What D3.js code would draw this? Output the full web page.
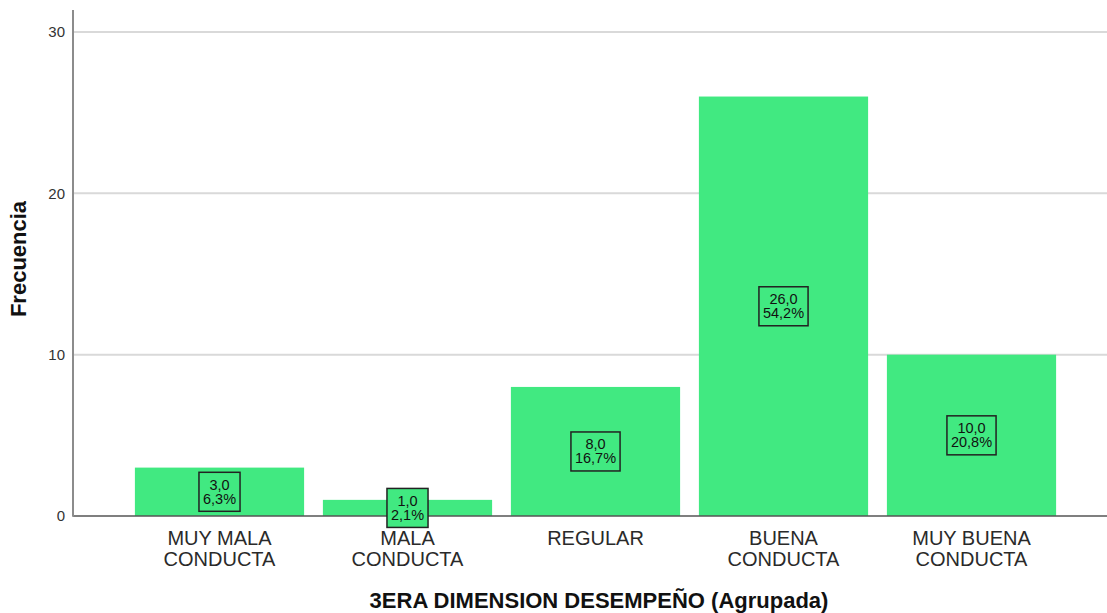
<!DOCTYPE html>
<html>
<head>
<meta charset="utf-8">
<script src="https://cdn.jsdelivr.net/npm/d3@7"></script>
<style>
  html, body { margin: 0; padding: 0; background: #fff; }
  svg { display: block; font-family: "Liberation Sans", Arial, sans-serif; }
</style>
</head>
<body>
<svg id="chart" width="1107" height="613"></svg>
<script>
// Frequency of each grouped performance level
const categories = ["MUY MALA CONDUCTA", "MALA CONDUCTA", "REGULAR", "BUENA CONDUCTA", "MUY BUENA CONDUCTA"];
const categoryLines = [["MUY MALA", "CONDUCTA"], ["MALA", "CONDUCTA"], ["REGULAR"], ["BUENA", "CONDUCTA"], ["MUY BUENA", "CONDUCTA"]];
const frequencies = [3, 1, 8, 26, 10];
const percentLabels = ["6,3%", "2,1%", "16,7%", "54,2%", "20,8%"];
const countLabels = ["3,0", "1,0", "8,0", "26,0", "10,0"];
const yTicks = [0, 10, 20, 30];

const svg = d3.select("#chart");
const W = 1107;
const axisX = 73;

const x = d3.scaleBand()
  .domain(categories)
  .range([125.5, 1065.5])
  .paddingInner(0.1)
  .paddingOuter(0.05);

const y = d3.scaleLinear().domain([0, 30]).range([516, 32]);

// horizontal gridlines
svg.append("g")
  .selectAll("line")
  .data(yTicks.filter(d => d > 0))
  .join("line")
  .attr("x1", axisX).attr("x2", W)
  .attr("y1", d => y(d)).attr("y2", d => y(d))
  .attr("stroke", "#d9d9d9").attr("stroke-width", 2);

// y axis
const yAxis = d3.axisLeft(y).tickValues(yTicks).tickSize(0).tickPadding(8);
const gy = svg.append("g").attr("transform", `translate(${axisX},0)`).call(yAxis);
gy.select(".domain").remove();
gy.selectAll("text")
  .attr("font-size", 15)
  .attr("fill", "#333")
  .attr("font-family", "Liberation Sans, Arial, sans-serif");

// bars
svg.append("g")
  .selectAll("rect")
  .data(categories)
  .join("rect")
  .attr("x", d => x(d))
  .attr("width", x.bandwidth())
  .attr("y", (d, i) => y(frequencies[i]))
  .attr("height", (d, i) => y(0) - y(frequencies[i]))
  .attr("fill", "#41e981");

// baseline and vertical axis line
svg.append("line")
  .attr("x1", axisX).attr("x2", W)
  .attr("y1", y(0)).attr("y2", y(0))
  .attr("stroke", "#555").attr("stroke-width", 1.5);
svg.append("line")
  .attr("x1", axisX).attr("x2", axisX)
  .attr("y1", y(0) + 0.75).attr("y2", 10)
  .attr("stroke", "#8c8c8c").attr("stroke-width", 2);

// value labels in boxes at bar midpoints
const lbl = svg.append("g")
  .selectAll("g")
  .data(categories)
  .join("g")
  .attr("transform", (d, i) => `translate(${x(d) + x.bandwidth() / 2},${(y(frequencies[i]) + y(0)) / 2})`);

lbl.each(function(d, i) {
  const g = d3.select(this);
  const rect = g.append("rect");
  const t1 = g.append("text").attr("text-anchor", "middle").attr("y", -2)
    .attr("font-size", 14.5).attr("fill", "#111").text(countLabels[i]);
  const t2 = g.append("text").attr("text-anchor", "middle").attr("y", 12)
    .attr("font-size", 14.5).attr("fill", "#111").text(percentLabels[i]);
  const w = Math.max(t1.node().getComputedTextLength(), t2.node().getComputedTextLength()) + 8;
  rect.attr("x", -w / 2).attr("y", -19.5).attr("width", w).attr("height", 39)
    .attr("fill", "#41e981").attr("stroke", "#222").attr("stroke-width", 1.5);
  t1.raise(); t2.raise();
});

// category labels, one text per line
const catG = svg.append("g");
categories.forEach((c, i) => {
  categoryLines[i].forEach((s, j) => {
    catG.append("text")
      .attr("text-anchor", "middle")
      .attr("x", x(c) + x.bandwidth() / 2)
      .attr("y", 545 + j * 21)
      .attr("font-size", 20)
      .attr("fill", "#2a2a2a")
      .text(s);
  });
});

// axis titles
svg.append("text")
  .attr("x", 599).attr("y", 608)
  .attr("text-anchor", "middle")
  .attr("font-size", 22).attr("font-weight", "bold").attr("fill", "#111")
  .text("3ERA DIMENSION DESEMPEÑO (Agrupada)");

svg.append("text")
  .attr("transform", "translate(26,259) rotate(-90)")
  .attr("text-anchor", "middle")
  .attr("font-size", 22).attr("font-weight", "bold").attr("fill", "#111")
  .text("Frecuencia");
</script>
</body>
</html>
